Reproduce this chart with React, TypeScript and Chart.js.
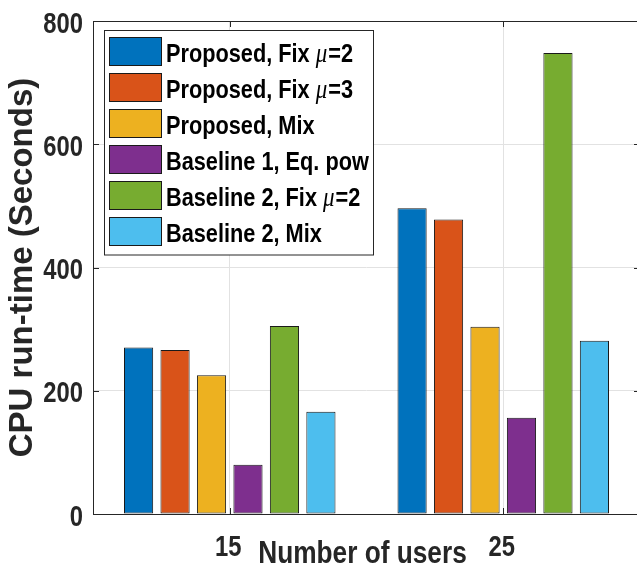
import React, { useEffect, useRef } from 'react';
import { Chart, registerables } from 'chart.js';

Chart.register(...registerables);

const categories = ['15', '25'];
const seriesLabels = [
  'Proposed, Fix μ=2',
  'Proposed, Fix μ=3',
  'Proposed, Mix',
  'Baseline 1, Eq. pow',
  'Baseline 2, Fix μ=2',
  'Baseline 2, Mix',
];
const proposedFix2 = [270, 496];
const proposedFix3 = [266, 478];
const proposedMix = [225, 304];
const baseline1EqPow = [80, 156];
const baseline2Fix2 = [305, 748];
const baseline2Mix = [166, 281];
const yTicks = [0, 200, 400, 600, 800];
const xTitle = 'Number of users';
const yTitle = 'CPU run-time (Seconds)';
const seriesColors = ['#0072BD', '#D95319', '#EDB120', '#7E2F8E', '#77AC30', '#4DBEEE'];

const SANS = '"Liberation Sans", Arial, sans-serif';
const SERIF = '"Liberation Serif", "DejaVu Serif", serif';
const AXIS_COLOR = '#262626';
const GRID_COLOR = '#e2e2e2';
const SX = 0.82; // horizontal condensing of the horizontal texts

function drawText(ctx: CanvasRenderingContext2D, text: string, x: number, y: number, font: string, align: CanvasTextAlign, color: string) {
  ctx.save();
  ctx.font = font;
  ctx.fillStyle = color;
  ctx.textAlign = align;
  ctx.textBaseline = 'alphabetic';
  ctx.translate(x, y);
  ctx.scale(SX, 1);
  ctx.fillText(text, 0, 0);
  const w = ctx.measureText(text).width * SX;
  ctx.restore();
  return w;
}

const framePlugin = {
  id: 'matlabFrame',
  afterDraw(chart: any) {
    const { ctx, chartArea } = chart;
    const { left, right, top, bottom } = chartArea;
    const x = chart.scales.x;
    const y = chart.scales.y;
    ctx.save();
    ctx.strokeStyle = AXIS_COLOR;
    ctx.lineWidth = 1;
    ctx.beginPath();
    ctx.rect(Math.round(left) + 0.5, Math.round(top) + 0.5, Math.round(right - left), Math.round(bottom - top));
    ctx.stroke();
    const tl = 6;
    ctx.beginPath();
    y.ticks.forEach((t: any) => {
      const py = Math.round(y.getPixelForValue(t.value)) + 0.5;
      ctx.moveTo(left, py);
      ctx.lineTo(left + tl, py);
      ctx.moveTo(right, py);
      ctx.lineTo(right - tl, py);
    });
    x.ticks.forEach((_t: any, i: number) => {
      const px = Math.round(x.getPixelForTick(i)) + 0.5;
      ctx.moveTo(px, bottom);
      ctx.lineTo(px, bottom - tl);
      ctx.moveTo(px, top);
      ctx.lineTo(px, top + tl);
    });
    ctx.stroke();
    ctx.restore();

    // tick labels
    const tickFont = `bold 29px ${SANS}`;
    y.ticks.forEach((t: any) => {
      const py = y.getPixelForValue(t.value);
      drawText(ctx, String(t.value), left - 10, py + 11.5, tickFont, 'right', AXIS_COLOR);
    });
    x.ticks.forEach((_t: any, i: number) => {
      const px = x.getPixelForTick(i);
      drawText(ctx, String(x.getLabelForValue(i)), px - 1.5, bottom + 42, tickFont, 'center', AXIS_COLOR);
    });
    // x title
    drawText(ctx, xTitle, 362.5, 563, `bold 32px ${SANS}`, 'center', AXIS_COLOR);

    // legend box
    ctx.save();
    const bx = 104.5, by = 30.5, bw = 269, bh = 224.5;
    ctx.fillStyle = '#ffffff';
    ctx.fillRect(bx, by, bw, bh);
    ctx.strokeStyle = AXIS_COLOR;
    ctx.lineWidth = 1;
    ctx.strokeRect(bx, by, bw, bh);
    const fontMain = `bold 26.5px ${SANS}`;
    const fontMu = `italic 28px ${SERIF}`;
    chart.data.datasets.forEach((ds: any, i: number) => {
      const sy = 37.5 + i * 36;
      ctx.fillStyle = ds.backgroundColor;
      ctx.fillRect(109.5, sy, 52, 28);
      ctx.strokeStyle = '#1a1a1a';
      ctx.strokeRect(109.5, sy, 52, 28);
      const ty = sy + 24.5;
      const parts = String(ds.label).split('μ');
      let tx = 166;
      parts.forEach((p: string, k: number) => {
        if (k > 0) {
          tx += drawText(ctx, 'μ', tx, ty, fontMu, 'left', '#000000') + 1;
        }
        tx += drawText(ctx, p, tx, ty, fontMain, 'left', '#000000');
      });
    });
    ctx.restore();
  },
};

export default function App() {
  const ref = useRef<HTMLCanvasElement | null>(null);
  useEffect(() => {
    document.body.style.margin = '0';
    document.body.style.overflow = 'hidden';
    const canvas = ref.current;
    if (!canvas) return;
    const values = [proposedFix2, proposedFix3, proposedMix, baseline1EqPow, baseline2Fix2, baseline2Mix];
    const chart = new Chart(canvas, {
      type: 'bar',
      data: {
        labels: categories,
        datasets: values.map((v, i) => ({
          label: seriesLabels[i],
          data: v,
          backgroundColor: seriesColors[i],
          borderColor: '#1a1a1a',
          borderWidth: 1,
          borderSkipped: false,
          categoryPercentage: 0.8,
          barPercentage: 0.8,
        })),
      },
      options: {
        responsive: false,
        animation: false,
        devicePixelRatio: 1,
        layout: { padding: { left: 0, right: 5, top: 21, bottom: 0 } },
        plugins: { legend: { display: false }, tooltip: { enabled: false } },
        scales: {
          x: {
            type: 'category',
            offset: true,
            grid: { offset: false, color: GRID_COLOR, drawTicks: false },
            border: { display: false },
            ticks: { display: false },
            afterFit: (s: any) => {
              s.height = 49;
            },
          },
          y: {
            min: 0,
            max: 800,
            afterBuildTicks: (s: any) => {
              s.ticks = yTicks.map((v) => ({ value: v }));
            },
            grid: { color: GRID_COLOR, drawTicks: false },
            border: { display: false },
            ticks: { display: false },
            title: {
              display: true,
              text: yTitle,
              color: AXIS_COLOR,
              font: { family: SANS, size: 33, weight: 'bold', lineHeight: 1.2 },
              padding: { top: 3, bottom: 0 },
            },
            afterFit: (s: any) => {
              s.width = 93;
            },
          },
        },
      },
      plugins: [framePlugin],
    } as any);
    return () => chart.destroy();
  }, []);
  return (
    <div style={{ width: 637, height: 563, overflow: 'hidden', position: 'relative' }}>
      <canvas ref={ref} width={645} height={563} style={{ display: 'block' }} />
    </div>
  );
}
